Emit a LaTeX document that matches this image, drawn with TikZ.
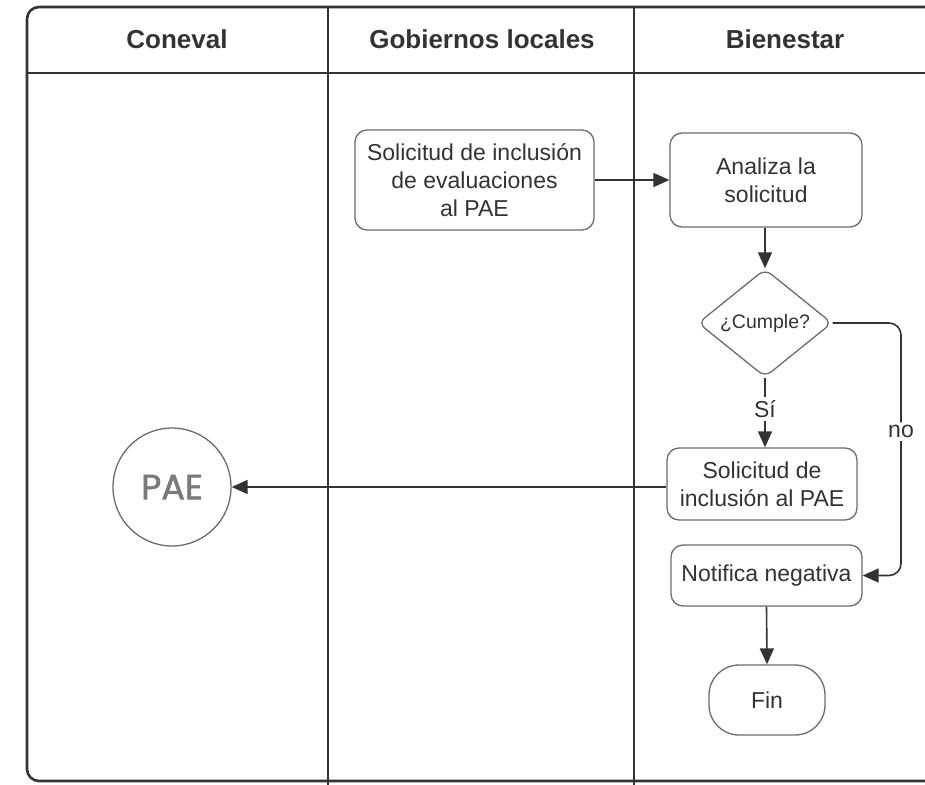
\documentclass[tikz,border=0pt]{standalone}
\usepackage{fontspec}
\setmainfont{Liberation Sans}
\newfontfamily\paefont{Poppins}[FakeBold=1.6]
\usetikzlibrary{shapes.geometric,arrows.meta}
\definecolor{lane}{HTML}{333333}
\definecolor{edge}{HTML}{6B6B6B}
\definecolor{txt}{HTML}{333333}
\definecolor{paegray}{HTML}{7A7A7A}
\tikzset{
  lanepath/.style={draw=lane, line width=2.6pt},
  head/.style={font=\fontsize{26}{30}\selectfont\bfseries, text=txt},
  proc/.style={draw=edge, line width=1.3pt, rounded corners=12pt, align=center,
    font=\fontsize{23}{28}\selectfont, text=txt, inner sep=0pt},
  conn/.style={draw=lane, line width=1.6pt, -{Triangle[length=16pt,width=14pt]}},
  lbl/.style={fill=white, font=\fontsize{23}{26}\selectfont, text=txt, inner sep=3pt},
}
\begin{document}
\begin{tikzpicture}[x=1pt,y=-1pt]
\useasboundingbox (0,0) rectangle (925,784);
% swimlane frame
\draw[lanepath, rounded corners=12pt] (935,7) -- (27,7) -- (27,781) -- (935,781);
\draw[lanepath] (27,73) -- (935,73);
\draw[lanepath] (328,7) -- (328,790);
\draw[lanepath] (634,7) -- (634,790);
% headers
\node[head] (h1) at (177,39) {Coneval};
\node[head] (h2) at (482,39) {Gobiernos locales};
\node[head] (h3) at (785,39) {Bienestar};
% nodes
\node[proc, minimum width=239pt, minimum height=100pt] (sol) at (474.5,180) {Solicitud de inclusión\\de evaluaciones\\al PAE};
\node[proc, minimum width=192pt, minimum height=94pt] (ana) at (766,180) {Analiza la\\solicitud};
\node[draw=edge, line width=1.3pt, diamond, rounded corners=8pt, minimum width=134pt, minimum height=104pt, inner sep=0pt,
  font=\fontsize{19.5}{22}\selectfont, text=txt] (dia) at (765,323) {¿Cumple?};
\node[proc, minimum width=190pt, minimum height=72pt] (sol2) at (762,484) {Solicitud de\\inclusión al PAE};
\node[proc, minimum width=191pt, minimum height=61pt] (neg) at (766.5,575.5) {Notifica negativa};
\node[proc, rounded corners=30pt, minimum width=116pt, minimum height=70pt] (fin) at (767,700) {Fin};
\node[draw=edge, line width=1.3pt, circle, minimum size=118pt, inner sep=0pt,
  font=\paefont\fontsize{35}{37}\selectfont, text=paegray] (pae) at (172,487) {PAE};
\coordinate (c1) at (901,323);
\coordinate (c2) at (901,575.5);
% connectors
\draw[conn] (sol.east) -- (ana.west);
\draw[conn] (dia.north |- ana.south) -- (dia.north);
\draw[conn] (dia.south) -- node[lbl, pos=0.45] {Sí} (dia.south |- sol2.north);
\draw[conn, rounded corners=12pt] (dia.east) -- (c1) -- node[lbl, pos=0.43] {no} (c2) -- (neg.east);
\draw[conn] (sol2.west |- 0,487) -- (pae.east);
\draw[conn] (neg.south) -- (fin.north);
\end{tikzpicture}
\end{document}
